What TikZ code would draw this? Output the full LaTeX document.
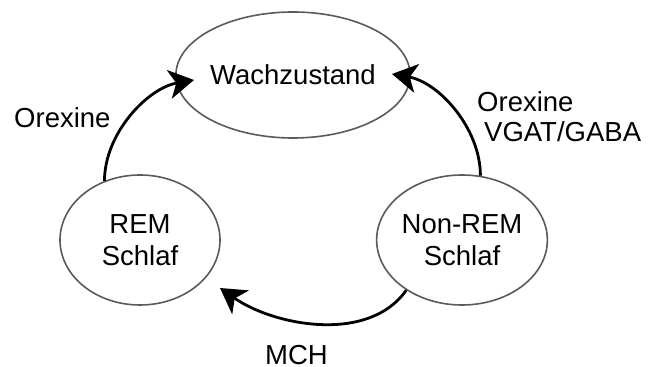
\documentclass[tikz,border=0pt]{standalone}
\usepackage{fontspec}
\setmainfont{Liberation Sans}
\usetikzlibrary{shapes.geometric,arrows.meta}
\definecolor{edgegray}{HTML}{5A5A5A}
\begin{document}
\begin{tikzpicture}[x=1pt,y=1pt,
  state/.style={ellipse,draw=edgegray,line width=1.6pt,inner sep=0pt,align=center,
    font=\fontsize{27.5}{32}\selectfont},
  lbl/.style={inner sep=0pt,anchor=base west,font=\fontsize{27.5}{32}\selectfont},
  flow/.style={line width=2.8pt,-{Stealth[length=25pt,width=29pt,inset=7pt]}}]
\useasboundingbox (0,0) rectangle (654,367);
\clip (0,0) rectangle (654,367);
\node[state,minimum width=172pt,minimum height=126pt] (wach) at (293,292) {Wachzustand};
\node[state,minimum width=160pt,minimum height=130pt] (rem) at (140,127) {REM\\Schlaf};
\node[state,minimum width=170pt,minimum height=130pt] (nrem) at (462,127) {Non-REM\\Schlaf};
\coordinate (t1) at (194,287);
\coordinate (t2) at (392,293);
\coordinate (t3) at (220,79);
\draw[flow] (rem.121) to[out=90,in=190,looseness=0.9] (t1);
\draw[flow] (nrem.74) to[out=90,in=-10,looseness=0.9] (t2);
\draw[flow] (nrem.222) to[out=235,in=-35,looseness=0.9] (t3);
\node[lbl] (l1) at (14,239) {Orexine};
\node[lbl] (l2a) at (477,255) {Orexine};
\node[lbl] (l2b) at (484,225) {VGAT/GABA};
\node[lbl] (l3) at (265,2.5) {MCH};
\end{tikzpicture}
\end{document}
